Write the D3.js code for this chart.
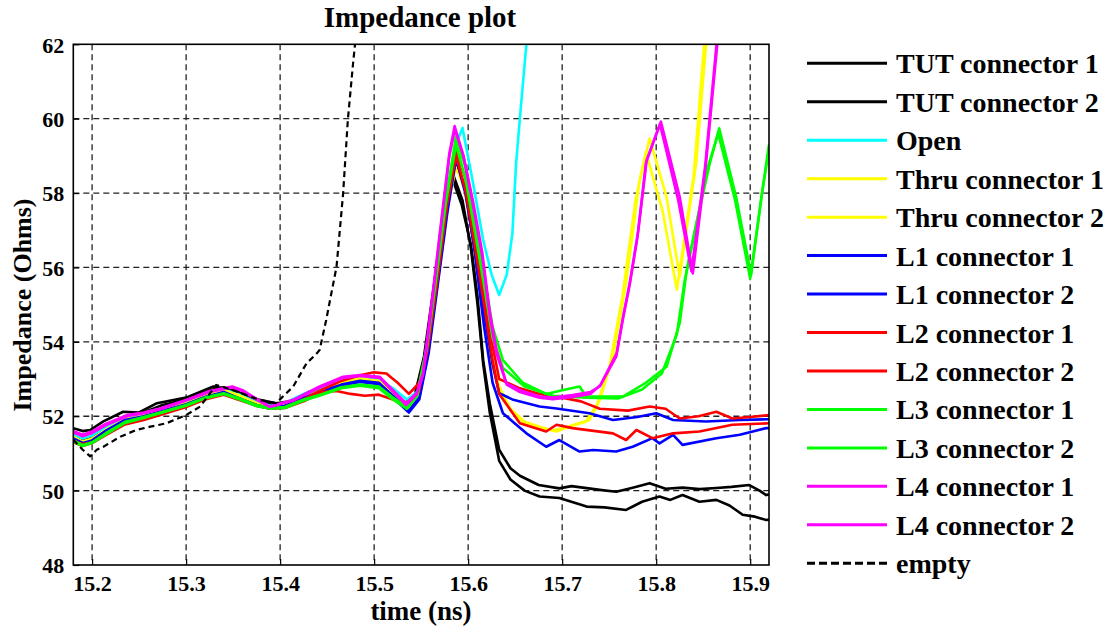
<!DOCTYPE html>
<html>
<head>
<meta charset="utf-8">
<script src="https://cdn.jsdelivr.net/npm/d3@7"></script>
<style>
  body { margin: 0; background: #fff; }
  text { font-family: "Liberation Serif", "Times New Roman", serif; font-weight: bold; fill: #000; }
</style>
</head>
<body>
<div id="chart"></div>
<script>
// time (ns) / impedance (Ohms) pairs
const tut1 = [[15.18,51.68],[15.19,51.6],[15.198,51.63],[15.212,51.86],[15.233,52.12],[15.25,52.1],[15.269,52.35],[15.3,52.5],[15.329,52.8],[15.349,52.72],[15.365,52.55],[15.378,52.44],[15.396,52.35],[15.41,52.4],[15.43,52.65],[15.45,52.8],[15.47,52.95],[15.49,53.0],[15.505,52.98],[15.518,52.7],[15.532,52.35],[15.543,52.55],[15.553,53.6],[15.563,55.4],[15.573,57.3],[15.583,58.4],[15.593,57.7],[15.603,56.6],[15.61,55.2],[15.616,53.5],[15.623,52.35],[15.633,51.1],[15.645,50.6],[15.655,50.4],[15.675,50.15],[15.697,50.06],[15.71,50.12],[15.74,50.02],[15.7575,49.97],[15.775,50.08],[15.793,50.2],[15.81,50.05],[15.828,50.08],[15.846,50.04],[15.864,50.07],[15.88,50.1],[15.899,50.15],[15.91,50.0],[15.917,49.88],[15.92,49.9]];
const tut2 = [[15.18,51.5],[15.19,51.38],[15.2,51.45],[15.215,51.75],[15.235,52.0],[15.255,52.1],[15.275,52.3],[15.3,52.45],[15.325,52.7],[15.34,52.78],[15.355,52.62],[15.375,52.4],[15.392,52.3],[15.41,52.38],[15.43,52.6],[15.45,52.78],[15.47,52.9],[15.49,52.98],[15.505,52.9],[15.52,52.55],[15.534,52.25],[15.545,52.6],[15.555,53.8],[15.565,55.7],[15.575,57.5],[15.584,58.5],[15.594,57.8],[15.603,56.5],[15.61,55.0],[15.616,53.4],[15.623,52.1],[15.633,50.8],[15.645,50.3],[15.66,50.0],[15.676,49.84],[15.697,49.8],[15.726,49.57],[15.745,49.55],[15.768,49.48],[15.785,49.7],[15.8035,49.84],[15.815,49.75],[15.828,49.88],[15.846,49.7],[15.864,49.75],[15.878,49.6],[15.892,49.35],[15.905,49.3],[15.917,49.21],[15.92,49.22]];
const open = [[15.18,51.5],[15.19,51.4],[15.2,51.48],[15.215,51.72],[15.235,51.98],[15.255,52.08],[15.275,52.22],[15.3,52.4],[15.32,52.6],[15.34,52.72],[15.355,52.6],[15.375,52.38],[15.39,52.28],[15.405,52.35],[15.425,52.6],[15.445,52.78],[15.465,52.95],[15.485,53.05],[15.505,53.0],[15.52,52.75],[15.535,52.45],[15.548,52.7],[15.558,53.9],[15.568,55.9],[15.578,57.9],[15.587,59.3],[15.594,59.75],[15.605,58.3],[15.616,56.74],[15.625,55.8],[15.633,55.26],[15.641,55.8],[15.647,56.9],[15.651,58.8],[15.656,60.3],[15.663,62.3]];
const thru1 = [[15.18,51.45],[15.19,51.3],[15.2,51.38],[15.215,51.65],[15.235,51.9],[15.255,52.02],[15.275,52.18],[15.3,52.35],[15.32,52.55],[15.34,52.7],[15.355,52.58],[15.375,52.35],[15.39,52.25],[15.405,52.3],[15.425,52.52],[15.445,52.7],[15.465,52.88],[15.485,53.0],[15.505,52.95],[15.52,52.6],[15.536,52.2],[15.547,52.6],[15.557,53.9],[15.567,55.8],[15.577,57.6],[15.587,58.8],[15.596,58.2],[15.605,57.0],[15.615,55.2],[15.623,53.8],[15.633,52.8],[15.645,52.2],[15.66,51.85],[15.676,51.72],[15.694,51.59],[15.71,51.75],[15.729,51.9],[15.74,52.44],[15.754,53.6],[15.768,55.6],[15.775,56.9],[15.782,58.3],[15.793,59.47],[15.811,57.9],[15.825,55.75],[15.8425,58.8],[15.853,62.0],[15.856,62.5]];
const thru2 = [[15.18,51.42],[15.19,51.32],[15.2,51.4],[15.215,51.62],[15.235,51.92],[15.255,52.0],[15.275,52.15],[15.3,52.33],[15.32,52.52],[15.34,52.68],[15.355,52.55],[15.375,52.33],[15.39,52.24],[15.405,52.28],[15.425,52.5],[15.445,52.68],[15.465,52.9],[15.485,53.02],[15.505,52.92],[15.52,52.55],[15.536,52.15],[15.547,52.55],[15.557,53.8],[15.567,55.7],[15.577,57.5],[15.587,58.7],[15.596,58.1],[15.605,56.8],[15.615,55.0],[15.623,53.6],[15.633,52.7],[15.645,52.15],[15.66,51.8],[15.676,51.68],[15.69,51.62],[15.705,51.7],[15.725,51.85],[15.737,52.3],[15.75,53.3],[15.764,55.2],[15.778,57.8],[15.789,59.1],[15.807,57.5],[15.822,55.4],[15.84,58.5],[15.851,62.0],[15.854,62.5]];
const l1c1 = [[15.18,51.4],[15.19,51.28],[15.2,51.35],[15.215,51.62],[15.235,51.9],[15.255,52.0],[15.275,52.15],[15.3,52.32],[15.32,52.52],[15.34,52.65],[15.355,52.5],[15.375,52.3],[15.39,52.22],[15.405,52.28],[15.425,52.5],[15.445,52.68],[15.465,52.85],[15.485,52.95],[15.505,52.9],[15.52,52.55],[15.537,52.15],[15.548,52.5],[15.558,53.8],[15.568,55.7],[15.578,57.6],[15.587,58.95],[15.597,58.0],[15.607,56.5],[15.617,54.8],[15.626,53.4],[15.633,52.62],[15.648,52.44],[15.676,52.26],[15.694,52.21],[15.729,52.08],[15.754,51.9],[15.78,51.98],[15.8,52.08],[15.818,51.9],[15.853,51.86],[15.889,51.9],[15.92,51.92]];
const l1c2 = [[15.18,51.38],[15.19,51.26],[15.2,51.33],[15.215,51.6],[15.235,51.88],[15.255,51.98],[15.275,52.12],[15.3,52.3],[15.32,52.5],[15.34,52.63],[15.355,52.48],[15.375,52.28],[15.39,52.2],[15.405,52.26],[15.425,52.48],[15.445,52.66],[15.465,52.83],[15.485,52.92],[15.505,52.86],[15.52,52.5],[15.537,52.1],[15.548,52.45],[15.558,53.7],[15.568,55.6],[15.578,57.5],[15.587,58.9],[15.597,58.1],[15.607,56.4],[15.617,54.4],[15.626,52.9],[15.637,52.08],[15.65,51.8],[15.662,51.54],[15.683,51.18],[15.697,51.36],[15.7185,51.05],[15.733,51.09],[15.7575,51.05],[15.775,51.18],[15.796,51.41],[15.8035,51.27],[15.818,51.5],[15.828,51.23],[15.864,51.41],[15.889,51.5],[15.917,51.68],[15.92,51.68]];
const l2c1 = [[15.18,51.35],[15.19,51.25],[15.2,51.3],[15.215,51.55],[15.235,51.82],[15.255,51.95],[15.275,52.1],[15.3,52.28],[15.32,52.48],[15.34,52.6],[15.355,52.48],[15.375,52.3],[15.39,52.2],[15.405,52.25],[15.425,52.45],[15.445,52.72],[15.465,52.95],[15.485,53.1],[15.5,53.18],[15.513,53.15],[15.525,52.9],[15.537,52.6],[15.548,52.9],[15.558,54.0],[15.568,55.9],[15.578,57.8],[15.587,59.15],[15.597,58.4],[15.607,57.0],[15.617,55.3],[15.626,53.9],[15.633,53.0],[15.655,52.75],[15.676,52.6],[15.7,52.5],[15.72,52.4],[15.74,52.2],[15.77,52.15],[15.793,52.26],[15.81,52.2],[15.825,51.94],[15.845,52.0],[15.864,52.12],[15.881,51.94],[15.9,51.98],[15.92,52.03]];
const l2c2 = [[15.18,51.3],[15.19,51.2],[15.2,51.28],[15.215,51.5],[15.235,51.78],[15.255,51.9],[15.275,52.05],[15.3,52.25],[15.32,52.45],[15.34,52.58],[15.355,52.45],[15.375,52.28],[15.39,52.2],[15.405,52.22],[15.425,52.4],[15.445,52.65],[15.46,52.68],[15.475,52.6],[15.49,52.55],[15.505,52.58],[15.52,52.45],[15.535,52.3],[15.547,52.6],[15.557,53.8],[15.567,55.6],[15.577,57.6],[15.587,59.0],[15.597,58.1],[15.607,56.6],[15.617,55.0],[15.626,53.5],[15.633,52.6],[15.655,51.81],[15.683,51.59],[15.694,51.77],[15.711,51.68],[15.754,51.54],[15.768,51.36],[15.779,51.63],[15.796,51.41],[15.818,51.54],[15.846,51.59],[15.881,51.77],[15.92,51.81]];
const l3c1 = [[15.18,51.35],[15.19,51.22],[15.2,51.3],[15.215,51.55],[15.235,51.85],[15.255,51.98],[15.275,52.12],[15.3,52.3],[15.32,52.5],[15.34,52.62],[15.355,52.5],[15.375,52.3],[15.39,52.22],[15.405,52.25],[15.425,52.45],[15.445,52.6],[15.465,52.78],[15.485,52.85],[15.505,52.8],[15.52,52.5],[15.535,52.25],[15.546,52.6],[15.556,53.9],[15.566,55.8],[15.576,57.8],[15.587,59.5],[15.597,58.7],[15.607,57.3],[15.617,55.8],[15.626,54.4],[15.637,53.51],[15.658,52.9],[15.683,52.6],[15.7,52.7],[15.7185,52.8],[15.7256,52.53],[15.7645,52.53],[15.789,52.9],[15.811,53.33],[15.825,54.5],[15.832,55.84],[15.839,56.74],[15.857,58.8],[15.867,59.74],[15.885,57.9],[15.901,55.8],[15.913,58.08],[15.92,59.3]];
const l3c2 = [[15.18,51.32],[15.19,51.2],[15.2,51.28],[15.215,51.52],[15.235,51.82],[15.255,51.95],[15.275,52.1],[15.3,52.28],[15.32,52.48],[15.34,52.6],[15.355,52.47],[15.375,52.27],[15.39,52.2],[15.405,52.22],[15.425,52.42],[15.445,52.58],[15.465,52.75],[15.485,52.82],[15.505,52.75],[15.52,52.45],[15.535,52.2],[15.546,52.55],[15.556,53.8],[15.566,55.7],[15.576,57.7],[15.587,59.3],[15.597,58.4],[15.607,57.0],[15.617,55.5],[15.626,54.1],[15.637,53.3],[15.66,52.8],[15.69,52.55],[15.7256,52.5],[15.76,52.48],[15.785,52.72],[15.806,53.15],[15.822,54.2],[15.83,55.6],[15.838,56.6],[15.855,58.7],[15.866,59.6],[15.884,57.8],[15.9,55.7],[15.912,57.9],[15.92,59.2]];
const l4c1 = [[15.18,51.6],[15.19,51.5],[15.2,51.59],[15.215,51.8],[15.237,52.03],[15.255,52.1],[15.272,52.21],[15.3,52.44],[15.325,52.68],[15.349,52.8],[15.36,52.7],[15.371,52.53],[15.389,52.26],[15.414,52.44],[15.442,52.8],[15.467,53.06],[15.485,53.11],[15.506,53.06],[15.52,52.7],[15.534,52.35],[15.545,52.62],[15.552,53.15],[15.559,54.6],[15.5715,57.27],[15.58,59.07],[15.5856,59.8],[15.595,59.0],[15.605,57.8],[15.615,56.4],[15.623,54.8],[15.63,53.8],[15.6406,52.89],[15.655,52.7],[15.676,52.53],[15.69,52.5],[15.711,52.57],[15.73,52.65],[15.74,52.8],[15.7575,53.6],[15.7645,54.6],[15.7716,55.5],[15.78,56.8],[15.789,58.8],[15.805,59.92],[15.825,57.9],[15.839,55.84],[15.853,58.8],[15.865,62.0],[15.868,62.5]];
const l4c2 = [[15.18,51.56],[15.19,51.46],[15.2,51.55],[15.215,51.76],[15.237,52.0],[15.255,52.08],[15.272,52.18],[15.3,52.42],[15.325,52.65],[15.349,52.77],[15.36,52.68],[15.371,52.5],[15.389,52.25],[15.414,52.42],[15.442,52.77],[15.467,53.03],[15.485,53.08],[15.506,53.03],[15.52,52.66],[15.534,52.3],[15.545,52.58],[15.552,53.1],[15.559,54.5],[15.5715,57.2],[15.58,59.0],[15.586,59.7],[15.595,59.0],[15.605,57.7],[15.615,56.3],[15.623,54.7],[15.63,53.7],[15.641,52.85],[15.655,52.65],[15.676,52.5],[15.69,52.46],[15.711,52.52],[15.73,52.6],[15.741,52.85],[15.758,53.7],[15.765,54.7],[15.772,55.6],[15.781,57.0],[15.79,58.9],[15.804,59.85],[15.8235,57.8],[15.8375,55.9],[15.852,58.7],[15.866,62.5]];
const empty = [[15.18,51.37],[15.19,51.1],[15.198,50.92],[15.205,51.1],[15.212,51.18],[15.23,51.45],[15.247,51.63],[15.262,51.72],[15.279,51.81],[15.3,52.03],[15.315,52.26],[15.332,52.84],[15.35,52.7],[15.378,52.44],[15.396,52.35],[15.403,52.53],[15.414,52.8],[15.428,53.42],[15.439,53.69],[15.442,53.78],[15.449,54.59],[15.46,56.02],[15.467,57.99],[15.472,59.96],[15.4776,61.49],[15.4794,61.94],[15.481,62.4]];

const seriesNames = ["TUT connector 1","TUT connector 2","Open","Thru connector 1","Thru connector 2","L1 connector 1","L1 connector 2","L2 connector 1","L2 connector 2","L3 connector 1","L3 connector 2","L4 connector 1","L4 connector 2","empty"];
const seriesData = [tut1, tut2, open, thru1, thru2, l1c1, l1c2, l2c1, l2c2, l3c1, l3c2, l4c1, l4c2, empty];
const seriesColors = ["#000000","#000000","#00ffff","#ffff00","#ffff00","#0000ff","#0000ff","#ff0000","#ff0000","#00ff00","#00ff00","#ff00ff","#ff00ff","#000000"];

const xTicks = [15.2, 15.3, 15.4, 15.5, 15.6, 15.7, 15.8, 15.9];
const yTicks = [48, 50, 52, 54, 56, 58, 60, 62];

const width = 1119, height = 632;
const plot = { left: 73.3, right: 769, top: 44.3, bottom: 565 };

const svg = d3.select("#chart").append("svg")
  .attr("width", width)
  .attr("height", height);

const x = d3.scaleLinear().domain([15.18, 15.92]).range([plot.left, plot.right]);
const y = d3.scaleLinear().domain([48, 62]).range([plot.bottom, plot.top]);

svg.append("clipPath").attr("id", "clip")
  .append("rect")
  .attr("x", plot.left).attr("y", plot.top)
  .attr("width", plot.right - plot.left).attr("height", plot.bottom - plot.top);

// grid
const grid = svg.append("g").attr("stroke", "#222").attr("stroke-width", 1.3).attr("stroke-dasharray", "6,4");
grid.selectAll(".vg").data(xTicks).enter().append("line")
  .attr("x1", d => x(d)).attr("x2", d => x(d))
  .attr("y1", plot.top).attr("y2", plot.bottom);
grid.selectAll(".hg").data(yTicks.slice(1, -1)).enter().append("line")
  .attr("y1", d => y(d)).attr("y2", d => y(d))
  .attr("x1", plot.left).attr("x2", plot.right);

// data lines
const line = d3.line().x(d => x(d[0])).y(d => y(d[1]));
svg.append("g").attr("clip-path", "url(#clip)")
  .selectAll("path")
  .data(seriesData)
  .enter()
  .append("path")
  .attr("d", line)
  .attr("fill", "none")
  .attr("stroke", (d, i) => seriesColors[i])
  .attr("stroke-width", (d, i) => i == 13 ? 2.2 : 2.6)
  .attr("stroke-dasharray", (d, i) => i == 13 ? "6,4" : null)
  .attr("stroke-linejoin", "round");

// axes
const xAxis = d3.axisBottom(x).tickValues(xTicks).tickSize(-6).tickPadding(10).tickFormat(d3.format(".1f"));
const yAxis = d3.axisLeft(y).tickValues(yTicks).tickSize(-6).tickPadding(9).tickFormat(d3.format("d"));

const gx = svg.append("g").attr("transform", "translate(0," + plot.bottom + ")").call(xAxis);
const gy = svg.append("g").attr("transform", "translate(" + plot.left + ",0)").call(yAxis);
[gx, gy].forEach(g => {
  g.select(".domain").remove();
  g.selectAll(".tick line").attr("stroke", "#000").attr("stroke-width", 1.2);
  g.selectAll("text").style("font-size", "22px").attr("fill", "#000");
});
gy.selectAll("text").attr("dy", "0.35em");

svg.append("rect")
  .attr("x", plot.left).attr("y", plot.top)
  .attr("width", plot.right - plot.left).attr("height", plot.bottom - plot.top)
  .attr("fill", "none").attr("stroke", "#000").attr("stroke-width", 1.6);

// titles
svg.append("text")
  .attr("x", 420).attr("y", 27)
  .attr("text-anchor", "middle")
  .style("font-size", "29px")
  .text("Impedance plot");

svg.append("text")
  .attr("x", 421).attr("y", 620)
  .attr("text-anchor", "middle")
  .style("font-size", "27px")
  .text("time (ns)");

svg.append("text")
  .attr("transform", "translate(31,305) rotate(-90)")
  .attr("text-anchor", "middle")
  .style("font-size", "26px")
  .text("Impedance (Ohms)");

// legend
const legend = svg.append("g").selectAll("g")
  .data(seriesNames)
  .enter()
  .append("g")
  .attr("transform", (d, i) => "translate(807," + (63.3 + i * 38.46) + ")");

legend.append("line")
  .attr("x1", 0).attr("x2", 80)
  .attr("stroke", (d, i) => seriesColors[i])
  .attr("stroke-width", 3)
  .attr("stroke-dasharray", (d, i) => i == 13 ? "8,4" : null);

legend.append("text")
  .attr("x", 89).attr("y", 10)
  .style("font-size", "28px")
  .text(d => d);
</script>
</body>
</html>
